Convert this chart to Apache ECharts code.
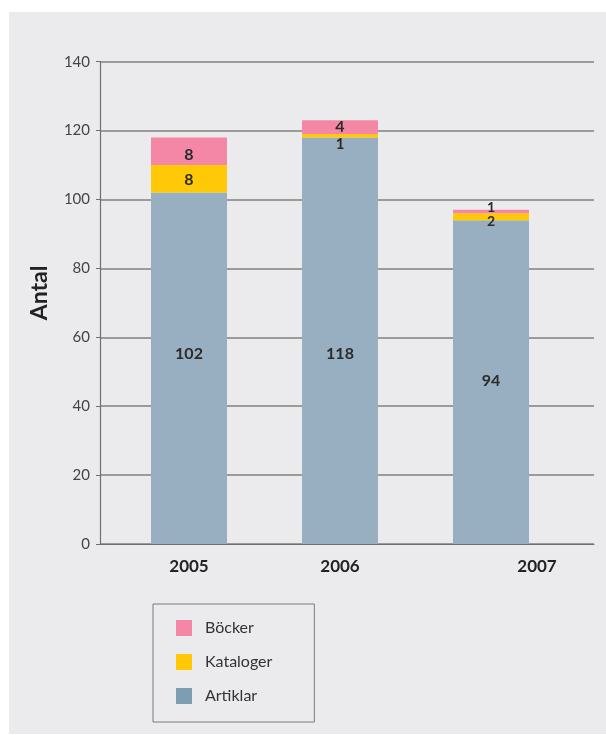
<!DOCTYPE html>
<html>
<head>
<meta charset="utf-8">
<script src="https://cdn.jsdelivr.net/npm/echarts@6/dist/echarts.min.js"></script>
<style>
html,body{margin:0;padding:0;background:#ffffff;}
#chart{width:606px;height:735px;}
</style>
</head>
<body>
<div id="chart"></div>
<script>
// ---- data ----
const years = ['2005', '2006', '2007'];
const artiklar = [102, 118, 94];
const kataloger = [8, 1, 2];
const bocker = [8, 4, 1];
const yTicks = [0, 20, 40, 60, 80, 100, 120, 140];

// ---- label nudges (style only) ----
const artOff = [[0, -14], [0, 13], [0, -1]];
const katOff = [[0, 1], [0, 8], [0, 5]];
const bokOff = [[0, 4], [0, 0], [0, -4]];
const katSize = [16, 15, 14];
const bokSize = [16, 16, 14];

const FONT = 'Lato, "Open Sans", sans-serif';
const C_ART = '#98AFC2', C_KAT = '#FFC907', C_BOK = '#F387A5';

function items(vals, offs, sizes) {
  return vals.map((v, i) => ({
    value: v,
    label: { offset: offs[i], fontSize: sizes ? sizes[i] : 16 }
  }));
}

const labelBase = {
  show: true, position: 'inside', color: '#2b2b2b',
  fontFamily: FONT, fontWeight: 'bold', fontSize: 16
};

const chart = echarts.init(document.getElementById('chart'), null, { renderer: 'canvas' });
chart.setOption({
  animation: false,
  backgroundColor: 'transparent',
  graphic: [{
    type: 'rect', z: -100, silent: true,
    shape: { x: 9, y: 12, width: 597, height: 722 },
    style: { fill: '#EBEBED' }
  }],
  grid: [
    { left: 100, right: 12, top: 61.7, bottom: 191 },      // axes frame
    { left: 113.5, right: 39.5, top: 61.7, bottom: 191 }   // bars
  ],
  xAxis: [
    {
      gridIndex: 0, type: 'value', min: 0, max: 1, z: 3,
      axisLine: { show: true, lineStyle: { color: '#6f6f6f', width: 1.2 } },
      axisTick: { show: false }, axisLabel: { show: false }, splitLine: { show: false }
    },
    {
      gridIndex: 1, type: 'category', data: years,
      axisLine: { show: false }, axisTick: { show: false },
      axisLabel: {
        margin: 14, color: '#222', fontFamily: FONT, fontWeight: 'bold', fontSize: 17,
        formatter: (v, i) => i === 2 ? '{s|' + v + '}' : v,
        rich: { s: { padding: [0, 0, 0, 92], color: '#222', fontFamily: FONT, fontWeight: 'bold', fontSize: 17 } }
      }
    }
  ],
  yAxis: [
    {
      gridIndex: 0, type: 'value', min: yTicks[0], max: yTicks[yTicks.length - 1], interval: 20,
      name: 'Antal', nameLocation: 'middle', nameGap: 49,
      nameTextStyle: { fontFamily: FONT, fontWeight: 'bold', fontSize: 23, color: '#222', padding: [0, 0, 0, 20] },
      axisLine: { show: true, lineStyle: { color: '#6f6f6f', width: 1.2 } },
      axisTick: { show: true, length: 4, lineStyle: { color: '#6f6f6f' } },
      axisLabel: { margin: 10, color: '#444', fontFamily: FONT, fontSize: 15 },
      splitLine: { show: true, lineStyle: { color: '#9b9b9b', width: 2 } }
    },
    {
      gridIndex: 1, type: 'value', min: 0, max: 140, show: false, splitLine: { show: false }
    }
  ],
  legend: {
    orient: 'vertical', left: 153, top: 604,
    padding: [16, 42, 18, 23],
    borderColor: '#7a7a7a', borderWidth: 1,
    itemWidth: 16, itemHeight: 16, itemGap: 18,
    icon: 'rect',
    textStyle: { fontFamily: FONT, fontSize: 16, color: '#333', padding: [0, 0, 0, 8] },
    data: [
      { name: 'Böcker', itemStyle: { color: C_BOK } },
      { name: 'Kataloger', itemStyle: { color: C_KAT } },
      { name: 'Artiklar', itemStyle: { color: '#7F9DB2' } }
    ]
  },
  series: [
    {
      name: 'Artiklar', type: 'bar', stack: 'a', xAxisIndex: 1, yAxisIndex: 1,
      barWidth: 76, itemStyle: { color: C_ART }, label: labelBase,
      data: items(artiklar, artOff)
    },
    {
      name: 'Kataloger', type: 'bar', stack: 'a', xAxisIndex: 1, yAxisIndex: 1,
      barWidth: 76, itemStyle: { color: C_KAT }, label: labelBase,
      data: items(kataloger, katOff, katSize)
    },
    {
      name: 'Böcker', type: 'bar', stack: 'a', xAxisIndex: 1, yAxisIndex: 1,
      barWidth: 76, itemStyle: { color: C_BOK }, label: labelBase,
      data: items(bocker, bokOff, bokSize)
    }
  ]
});
</script>
</body>
</html>
